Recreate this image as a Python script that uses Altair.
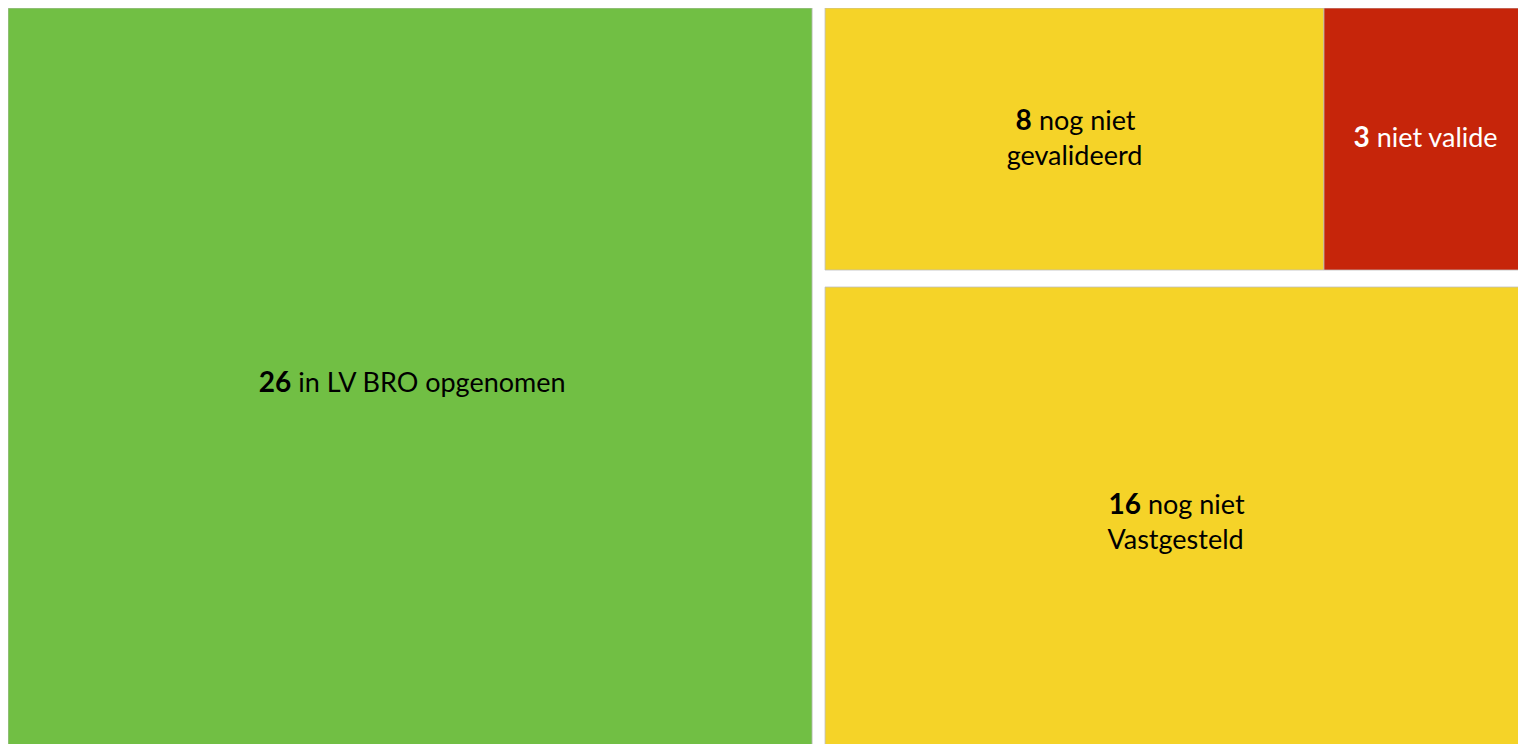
import altair as alt
import pandas as pd

# ---- data ----
values = [26, 8, 3, 16]
line1_text = ["in LV BRO opgenomen", "nog niet", "niet valide", "nog niet"]
line2_text = ["", "gevalideerd", "", "Vastgesteld"]
fill_colors = ["#71BF44", "#F5D328", "#C6250A", "#F5D328"]
text_colors = ["#000000", "#000000", "#FFFFFF", "#000000"]

# tile boxes as shares of the visible plot (the treemap runs past the right
# and bottom edges of the picture, so some tiles end beyond 1 and are clipped)
tile_x0 = [0.0, 0.5411, 0.8715, 0.5411]
tile_x1 = [0.5325, 0.8715, 1.0053, 1.0053]
tile_y0 = [0.0, 0.0, 0.0, 0.3791]
tile_y1 = [1.0217, 0.3560, 0.3560, 1.0217]

W, H = 1510, 736
FS_NUM = 28
FS_TXT = 27
FONT = "Lato"
LINE = 35

# approximate Lato advance widths (em)
CW = {" ": 0.2, "a": 0.49, "b": 0.56, "c": 0.46, "d": 0.56, "e": 0.52, "f": 0.33,
      "g": 0.50, "i": 0.24, "l": 0.24, "m": 0.83, "n": 0.56, "o": 0.56, "p": 0.56,
      "r": 0.37, "s": 0.42, "t": 0.36, "v": 0.51, "B": 0.63, "L": 0.50, "O": 0.75,
      "R": 0.62, "V": 0.67}


def tw(s, bold=False):
    if bold:
        return 0.58 * len(s) * FS_NUM
    return sum(CW.get(c, 0.52) for c in s) * FS_TXT


rects = pd.DataFrame({
    "x": tile_x0, "x2": tile_x1, "y": tile_y0, "y2": tile_y1,
    "color": fill_colors, "value": values,
})

num_rows, rest_rows, center_rows = [], [], []
for v, t1, t2, tc, x0, x1, y0, y1 in zip(values, line1_text, line2_text, text_colors,
                                           tile_x0, tile_x1, tile_y0, tile_y1):
    cx = (x0 + x1) / 2
    cy = (y0 + y1) / 2
    nlines = 2 if t2 else 1
    y_first = cy - (nlines - 1) * LINE / 2 / H
    wn = tw(str(v), True)
    wr = tw(t1)
    gap = 0.26 * FS_TXT
    left = -(wn + gap + wr) / 2
    num_rows.append({"x": cx + (left + wn) / W, "y": y_first, "t": str(v), "c": tc})
    rest_rows.append({"x": cx + (left + wn + gap) / W, "y": y_first, "t": t1, "c": tc})
    if t2:
        center_rows.append({"x": cx, "y": y_first + LINE / H, "t": t2, "c": tc})

xs = alt.Scale(domain=[0, 1], nice=False, zero=False)
ys = alt.Scale(domain=[0, 1], nice=False, zero=False, reverse=True)

base_rect = alt.Chart(rects).mark_rect(
    stroke="#bdbdbd", strokeWidth=1, strokeOpacity=0.8, clip=True
).encode(
    x=alt.X("x:Q", scale=xs, axis=None),
    x2="x2:Q",
    y=alt.Y("y:Q", scale=ys, axis=None),
    y2="y2:Q",
    color=alt.Color("color:N", scale=None),
)


def text_layer(rows, align, weight, size):
    return alt.Chart(pd.DataFrame(rows)).mark_text(
        align=align, baseline="middle", font=FONT, fontSize=size, fontWeight=weight
    ).encode(
        x=alt.X("x:Q", scale=xs, axis=None),
        y=alt.Y("y:Q", scale=ys, axis=None),
        text="t:N",
        color=alt.Color("c:N", scale=None),
    )


chart = alt.layer(
    base_rect,
    text_layer(num_rows, "right", "bold", FS_NUM),
    text_layer(rest_rows, "left", "normal", FS_TXT),
    text_layer(center_rows, "center", "normal", FS_TXT),
).properties(
    width=W, height=H, padding=0, autosize="none"
).configure_view(stroke=None)

chart.save("out.html", embed_options={"renderer": "svg", "actions": False})
